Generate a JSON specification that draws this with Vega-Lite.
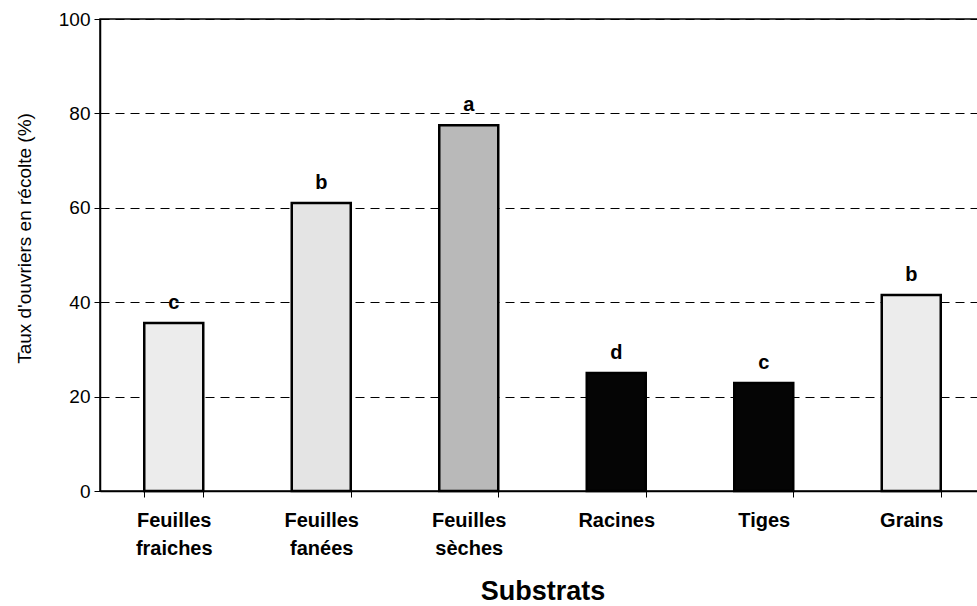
{
  "$schema": "https://vega.github.io/schema/vega-lite/v6.json",
  "autosize": "none",
  "width": 885,
  "height": 472,
  "padding": {"left": 100, "top": 19, "right": 0, "bottom": 115},
  "background": "white",
  "config": {
    "font": "Liberation Sans",
    "view": {"stroke": "black", "strokeWidth": 1.5}
  },
  "data": {
    "values": [
      {"substrat": "Feuilles fraiches", "taux": 35.6, "lettre": "c", "groupe": "clair"},
      {"substrat": "Feuilles fanées", "taux": 61.0, "lettre": "b", "groupe": "clair2"},
      {"substrat": "Feuilles sèches", "taux": 77.5, "lettre": "a", "groupe": "moyen"},
      {"substrat": "Racines", "taux": 25.0, "lettre": "d", "groupe": "noir"},
      {"substrat": "Tiges", "taux": 22.9, "lettre": "c", "groupe": "noir"},
      {"substrat": "Grains", "taux": 41.5, "lettre": "b", "groupe": "clair"}
    ]
  },
  "encoding": {
    "x": {
      "field": "substrat",
      "type": "nominal",
      "sort": null,
      "scale": {"paddingInner": 0.6, "paddingOuter": 0.3},
      "axis": {
        "title": "Substrats",
        "titleFontSize": 27,
        "titleFontWeight": "bold",
        "titleColor": "black",
        "titlePadding": 20,
        "labelAngle": 0,
        "labelExpr": "split(datum.label, ' ')",
        "labelFontSize": 20,
        "labelFontWeight": "bold",
        "labelColor": "black",
        "labelLineHeight": 28,
        "labelPadding": 13,
        "tickBand": "extent",
        "tickColor": "black",
        "tickSize": 6,
        "domainColor": "black",
        "domainWidth": 1.5,
        "grid": false
      }
    },
    "y": {
      "field": "taux",
      "type": "quantitative",
      "scale": {"domain": [0, 100]},
      "axis": {
        "title": "Taux d'ouvriers en récolte (%)",
        "titleFontSize": 19,
        "titleFontWeight": "normal",
        "titleColor": "black",
        "titleX": -76,
        "titleY": 219,
        "titleBaseline": "middle",
        "values": [0, 20, 40, 60, 80, 100],
        "labelFontSize": 19,
        "labelColor": "black",
        "labelPadding": 4,
        "tickColor": "black",
        "tickSize": 6,
        "domainColor": "black",
        "domainWidth": 1.5,
        "grid": true,
        "gridColor": "black",
        "gridDash": [9, 6],
        "gridWidth": 1
      }
    }
  },
  "layer": [
    {
      "mark": {"type": "bar", "stroke": "black", "strokeWidth": 2.5},
      "encoding": {
        "fill": {
          "field": "groupe",
          "type": "nominal",
          "scale": {
            "domain": ["clair", "clair2", "moyen", "noir"],
            "range": ["#ececec", "#e4e4e4", "#b9b9b9", "#050505"]
          },
          "legend": null
        }
      }
    },
    {
      "mark": {"type": "text", "fontWeight": "bold", "fontSize": 20, "baseline": "bottom", "dy": -10, "color": "black"},
      "encoding": {"text": {"field": "lettre"}}
    }
  ]
}
